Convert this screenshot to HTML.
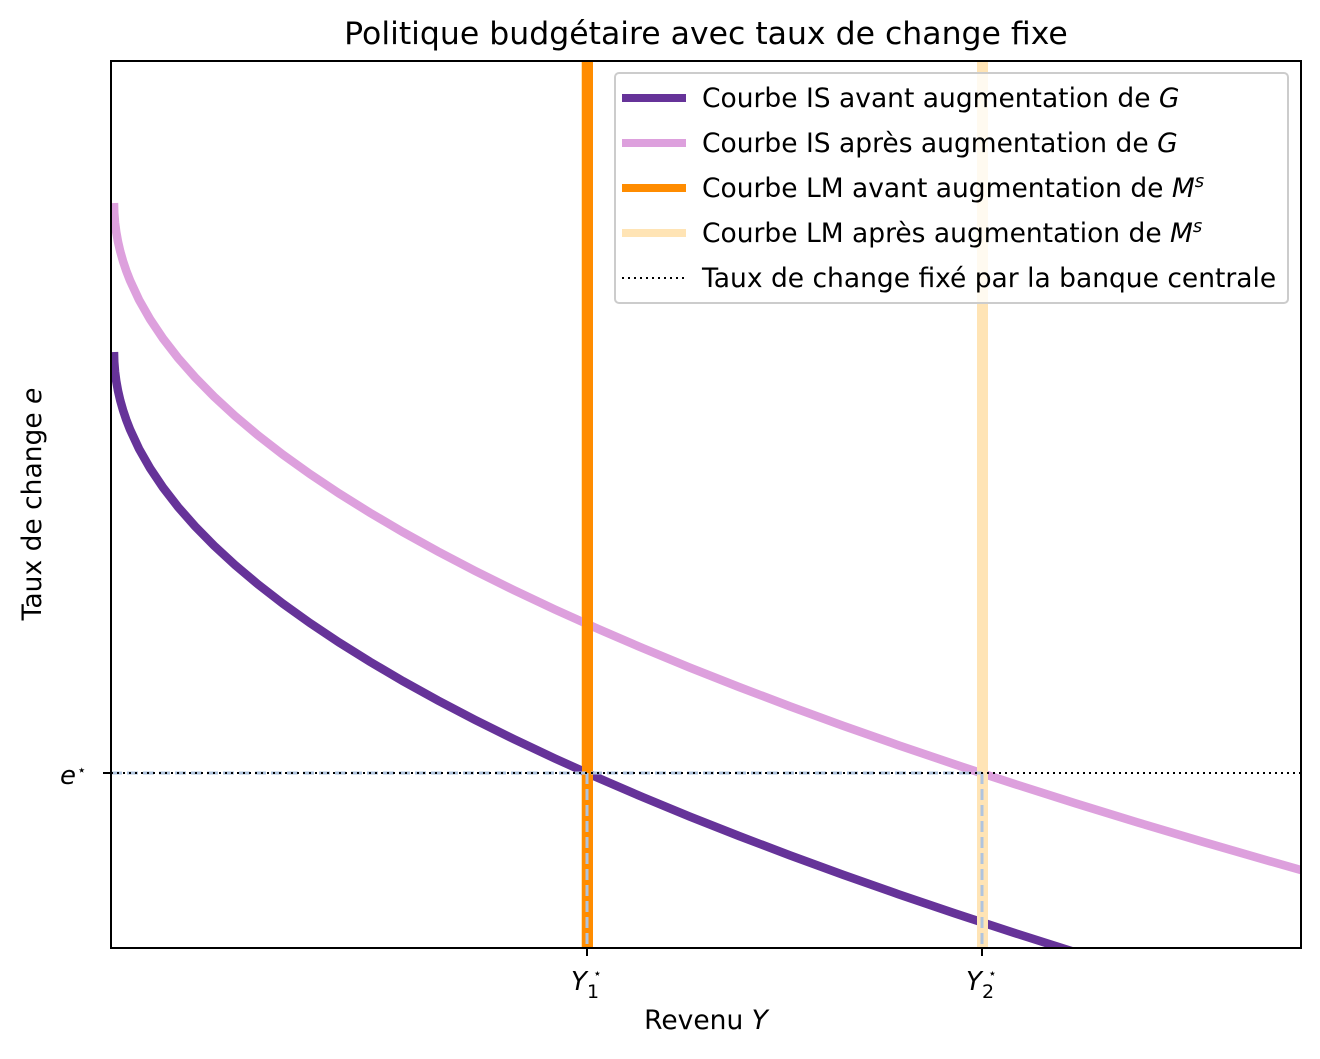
<!DOCTYPE html>
<html><head><meta charset="utf-8"><style>
body{margin:0;background:#fff}
svg text{font-family:"DejaVu Sans","Liberation Sans",sans-serif;fill:#000}
</style></head><body>
<svg width="1320" height="1054" viewBox="0 0 1320 1054" xmlns="http://www.w3.org/2000/svg">
<defs><clipPath id="c"><rect x="111" y="61" width="1190" height="887"/></clipPath>
<polyline id="cv" fill="none" stroke-width="8.5" points="0,0 0.25,9.68 1,19.36 2.25,29.04 4,38.72 6.25,48.4 9,58.08 12.25,67.76 16,77.44 25,96.8 36,116.16 49,135.52 64,154.88 81,174.24 100,193.6 121,212.96 144,232.32 169,251.68 196,271.04 225,290.4 256,309.76 289,329.12 324,348.48 361,367.84 400,387.2 441,406.56 484,425.92 529,445.28 576,464.64 625,484 676,503.36 729,522.72 784,542.08 841,561.44 900,580.8 961,600.16 1024,619.52 1089,638.88 1156,658.24 1187,667"/>
</defs>
<g clip-path="url(#c)">
<line x1="583" y1="61" x2="583" y2="948" stroke="#ffe4b5" stroke-width="4"/>
<g transform="translate(114,352)" stroke="#663399"><use href="#cv"/></g>
<g transform="translate(114,203)" stroke="#dda0dd"><use href="#cv"/></g>
<line x1="587.5" y1="61" x2="587.5" y2="948" stroke="#ff8c00" stroke-width="11"/>
<line x1="982.5" y1="61" x2="982.5" y2="948" stroke="#ffe4b5" stroke-width="11"/>
<line x1="111" y1="773" x2="982" y2="773" stroke="#b0c4de" stroke-width="3" stroke-dasharray="11,5"/>
<line x1="587" y1="773" x2="587" y2="948" stroke="#b0c4de" stroke-width="3" stroke-dasharray="11,5"/>
<line x1="982" y1="773" x2="982" y2="948" stroke="#b0c4de" stroke-width="3" stroke-dasharray="11,5"/>
<line x1="111" y1="773" x2="1301" y2="773" stroke="#000" stroke-width="2" stroke-dasharray="2,4"/>
</g>
<rect x="111" y="61" width="1190" height="887" fill="none" stroke="#000" stroke-width="2"/>
<line x1="587" y1="948" x2="587" y2="956" stroke="#000" stroke-width="2"/>
<line x1="982" y1="948" x2="982" y2="956" stroke="#000" stroke-width="2"/>
<line x1="103" y1="773" x2="111" y2="773" stroke="#000" stroke-width="2"/>
<text x="571" y="990" font-size="26" font-style="italic">Y</text><text x="587" y="998" font-size="19">1</text><text x="593" y="978" font-size="14">⋆</text>
<text x="966" y="990" font-size="26" font-style="italic">Y</text><text x="982" y="998" font-size="19">2</text><text x="988" y="978" font-size="14">⋆</text>
<text x="60" y="784" font-size="26" font-style="italic">e</text><text x="77" y="775" font-size="15">⋆</text>
<text x="706" y="1029" font-size="26.5" text-anchor="middle">Revenu <tspan font-style="italic">Y</tspan></text>
<text transform="translate(41,504) rotate(-90)" font-size="26.5" text-anchor="middle">Taux de change <tspan font-style="italic">e</tspan></text>
<text x="706" y="44" font-size="31.5" text-anchor="middle">Politique budgétaire avec taux de change fixe</text>
<rect x="615" y="73" width="673" height="230" rx="4" fill="#fff" fill-opacity="0.8" stroke="#ccc" stroke-width="2"/>
<line x1="622" y1="98" x2="686" y2="98" stroke="#663399" stroke-width="8"/>
<line x1="622" y1="143" x2="686" y2="143" stroke="#dda0dd" stroke-width="8"/>
<line x1="622" y1="188" x2="686" y2="188" stroke="#ff8c00" stroke-width="8"/>
<line x1="622" y1="233" x2="686" y2="233" stroke="#ffe4b5" stroke-width="8"/>
<line x1="622" y1="278" x2="686" y2="278" stroke="#000" stroke-width="2" stroke-dasharray="2,4"/>
<g font-size="26.5">
<text x="702" y="107">Courbe IS avant augmentation de <tspan font-style="italic">G</tspan></text>
<text x="702" y="152">Courbe IS après augmentation de <tspan font-style="italic">G</tspan></text>
<text x="702" y="197">Courbe LM avant augmentation de <tspan font-style="italic">M</tspan><tspan font-size="18" font-style="italic" dy="-10">s</tspan></text>
<text x="702" y="242">Courbe LM après augmentation de <tspan font-style="italic">M</tspan><tspan font-size="18" font-style="italic" dy="-10">s</tspan></text>
<text x="702" y="287">Taux de change fixé par la banque centrale</text>
</g>
</svg>
</body></html>
